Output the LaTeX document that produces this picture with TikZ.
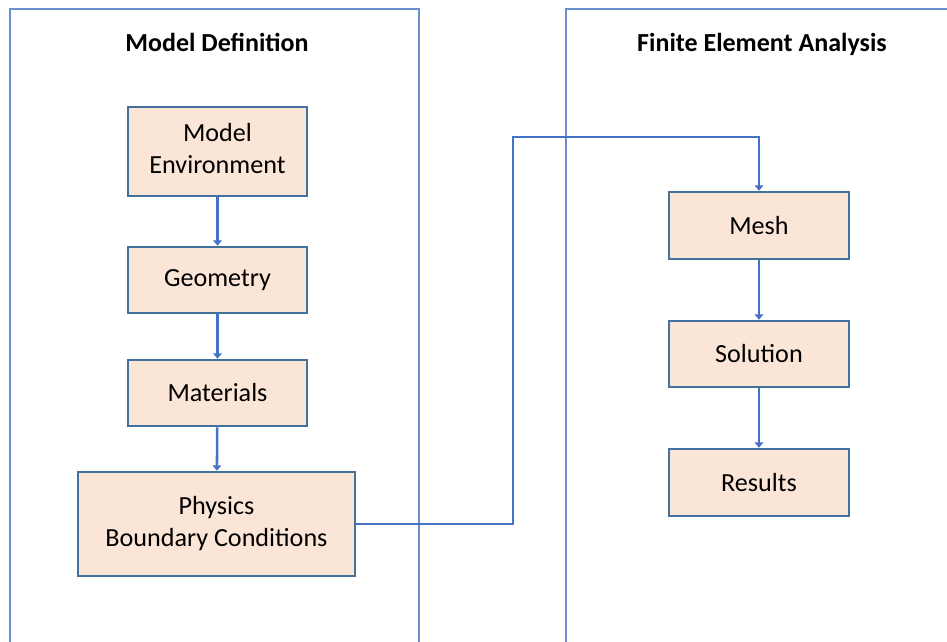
\documentclass[tikz,border=0pt]{standalone}
\usepackage{fontspec}
\setmainfont{Carlito}
\usetikzlibrary{arrows.meta}
\definecolor{panelblue}{HTML}{6A8ED0}
\definecolor{linkblue}{HTML}{4472C4}
\definecolor{boxedge}{HTML}{41719C}
\definecolor{boxfill}{HTML}{FBE5D6}
\newcommand{\twolines}[2]{\begin{tabular}{@{}c@{}}#1\\#2\end{tabular}}
\begin{document}
\begin{tikzpicture}[x=0.75pt,y=-0.75pt,
  panel/.style={draw=panelblue,line width=1.1pt},
  stepbox/.style={draw=boxedge,line width=2pt,fill=boxfill,align=center,
    font=\fontsize{19.6}{24}\selectfont,inner sep=0pt},
  title/.style={font=\fontsize{19.5}{23}\selectfont\bfseries,anchor=base},
  link/.style={draw=linkblue,line width=1.9pt,-{Triangle[length=4pt,width=6.5pt]}}]
\useasboundingbox[fill=white] (0,0) rectangle (947,642);

% the two panels, open at the bottom
\draw[panel] (10,642) -- (10,9) -- (419,9) -- (419,642);
\draw[panel] (566,642) -- (566,9) -- (947,9);

\node[title] (tdef) at (217,52) {Model Definition};
\node[title] (tfea) at (762,52) {Finite Element Analysis};

% model definition steps
\node[stepbox,minimum width=179*0.75pt,minimum height=89*0.75pt] (env) at (217.5,151.5) {\twolines{Model}{Environment}};
\node[stepbox,minimum width=179*0.75pt,minimum height=66*0.75pt] (geo) at (217.5,280) {Geometry};
\node[stepbox,minimum width=179*0.75pt,minimum height=66*0.75pt] (mat) at (217.5,393) {Materials};
\node[stepbox,minimum width=277*0.75pt,minimum height=104*0.75pt] (phys) at (216.5,524) {\twolines{Physics}{Boundary Conditions}};

% analysis steps
\node[stepbox,minimum width=180*0.75pt,minimum height=67*0.75pt] (mesh) at (759,225.5) {Mesh};
\node[stepbox,minimum width=180*0.75pt,minimum height=66*0.75pt] (sol) at (759,354) {Solution};
\node[stepbox,minimum width=180*0.75pt,minimum height=67*0.75pt] (res) at (759,482.5) {Results};

\coordinate (via) at (513,137);

\draw[link] (env) -- (geo);
\draw[link] (geo) -- (mat);
\draw[link] (mat) -- (phys);
\draw[link] (phys.east) -| (via) -| (mesh.north);
\draw[link] (mesh) -- (sol);
\draw[link] (sol) -- (res);
\end{tikzpicture}
\end{document}
